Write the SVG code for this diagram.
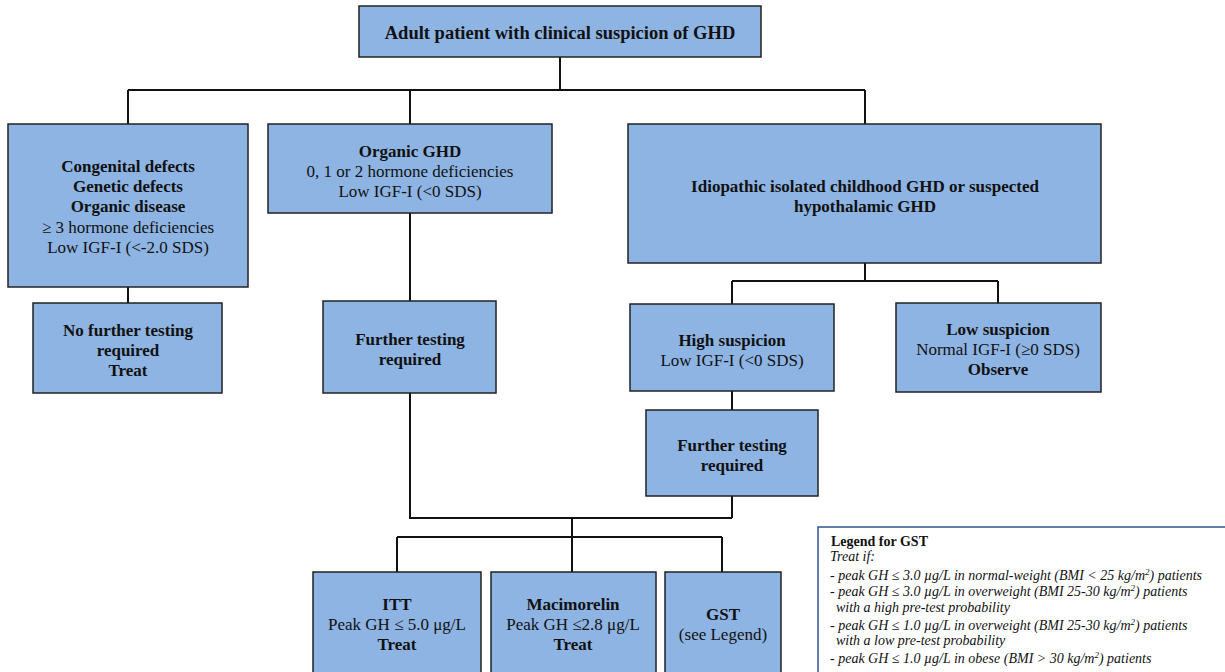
<svg xmlns="http://www.w3.org/2000/svg" width="1225" height="672" viewBox="0 0 1225 672">
<style>
.box{fill:#8EB4E3;stroke:#222;stroke-width:1.5}
.ln{fill:none;stroke:#111;stroke-width:2}
text{font-family:"Liberation Serif","Times New Roman",serif;font-size:17px;fill:#111;text-anchor:middle}
.b{font-weight:bold}
.lg{text-anchor:start;font-size:14px;font-style:italic}
.lgt{text-anchor:start;font-size:14px;font-weight:bold}
.sup{font-size:9px}
</style>
<rect width="1225" height="672" fill="#fff"/>
<g id="connectors">
<path class="ln" d="M560 57V90M128 90H865M128 90V124M410 90V124M865 90V124"/>
<path class="ln" d="M128 287V303"/>
<path class="ln" d="M410 213V301M410 393V518H732M732 496V518"/>
<path class="ln" d="M865 263V281M732 281H998M732 281V304M998 281V303"/>
<path class="ln" d="M732 391V410"/>
<path class="ln" d="M572 518V537M397 537H722M397 537V572M572 537V572M722 537V572"/>
</g>
<g id="n-top"><rect class="box" x="359" y="6" width="402" height="51"/><text class="b" x="560" y="39" style="font-size:18.5px">Adult patient with clinical suspicion of GHD</text></g>
<g id="n-congenital"><rect class="box" x="8" y="124" width="240" height="163"/>
<text class="b" x="128" y="172">Congenital defects</text>
<text class="b" x="128" y="192">Genetic defects</text>
<text class="b" x="128" y="212">Organic disease</text>
<text x="128" y="233">≥ 3 hormone deficiencies</text>
<text x="128" y="253">Low IGF-I (&lt;-2.0 SDS)</text></g>
<g id="n-nofurther"><rect class="box" x="33" y="303" width="189" height="90"/>
<text class="b" x="128" y="336">No further testing</text>
<text class="b" x="128" y="356">required</text>
<text class="b" x="128" y="376">Treat</text></g>
<g id="n-organic"><rect class="box" x="268" y="124" width="284" height="89"/>
<text class="b" x="410" y="157">Organic GHD</text>
<text x="410" y="177">0, 1 or 2 hormone deficiencies</text>
<text x="410" y="197">Low IGF-I (&lt;0 SDS)</text></g>
<g id="n-further1"><rect class="box" x="323" y="301" width="173" height="92"/>
<text class="b" x="410" y="345">Further testing</text>
<text class="b" x="410" y="365">required</text></g>
<g id="n-idiopathic"><rect class="box" x="628" y="124" width="473" height="139"/>
<text class="b" x="865" y="192">Idiopathic isolated childhood GHD or suspected</text>
<text class="b" x="865" y="212">hypothalamic GHD</text></g>
<g id="n-high"><rect class="box" x="630" y="304" width="204" height="87"/>
<text class="b" x="732" y="346">High suspicion</text>
<text x="732" y="366">Low IGF-I (&lt;0 SDS)</text></g>
<g id="n-low"><rect class="box" x="896" y="303" width="205" height="89"/>
<text class="b" x="998" y="335">Low suspicion</text>
<text x="998" y="355">Normal IGF-I (≥0 SDS)</text>
<text class="b" x="998" y="375">Observe</text></g>
<g id="n-further2"><rect class="box" x="646" y="410" width="172" height="86"/>
<text class="b" x="732" y="451">Further testing</text>
<text class="b" x="732" y="471">required</text></g>
<g id="n-itt"><rect class="box" x="313" y="572" width="168" height="120"/>
<text class="b" x="397" y="610">ITT</text>
<text x="397" y="630">Peak GH ≤ 5.0 μg/L</text>
<text class="b" x="397" y="650">Treat</text></g>
<g id="n-maci"><rect class="box" x="491" y="572" width="165" height="120"/>
<text class="b" x="573" y="610">Macimorelin</text>
<text x="573" y="630">Peak GH ≤2.8 μg/L</text>
<text class="b" x="573" y="650">Treat</text></g>
<g id="n-gst"><rect class="box" x="665" y="572" width="116" height="120"/>
<text class="b" x="723" y="620">GST</text>
<text x="723" y="640">(see Legend)</text></g>
<g id="legend"><rect x="818" y="527" width="420" height="170" fill="#fff" stroke="#2F5597" stroke-width="1.5"/>
<text class="lgt" x="831" y="546">Legend for GST</text>
<text class="lg" x="830" y="561">Treat if:</text>
<text class="lg" x="830" y="580">- peak GH ≤ 3.0 µg/L in normal-weight (BMI &lt; 25 kg/m<tspan class="sup" dy="-5">2</tspan><tspan dy="5">) patients</tspan></text>
<text class="lg" x="830" y="596">- peak GH ≤ 3.0 µg/L in overweight (BMI 25-30 kg/m<tspan class="sup" dy="-5">2</tspan><tspan dy="5">) patients</tspan></text>
<text class="lg" x="836" y="612">with a high pre-test probability</text>
<text class="lg" x="830" y="630">- peak GH ≤ 1.0 µg/L in overweight (BMI 25-30 kg/m<tspan class="sup" dy="-5">2</tspan><tspan dy="5">) patients</tspan></text>
<text class="lg" x="836" y="645">with a low pre-test probability</text>
<text class="lg" x="830" y="663">- peak GH ≤ 1.0 µg/L in obese (BMI &gt; 30 kg/m<tspan class="sup" dy="-5">2</tspan><tspan dy="5">) patients</tspan></text>
</g>
</svg>
